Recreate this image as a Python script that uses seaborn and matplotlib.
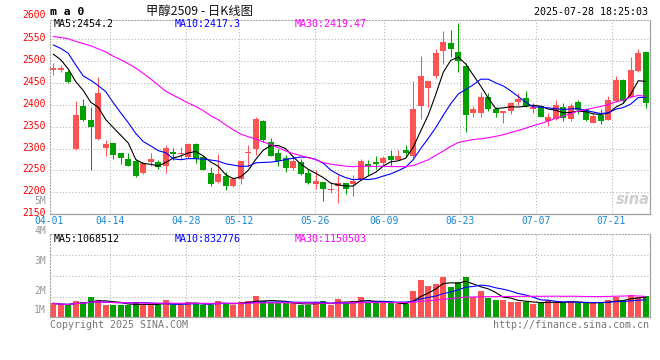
import numpy as np
import pandas as pd
import matplotlib
matplotlib.use("Agg")
import matplotlib.pyplot as plt
import matplotlib.transforms as mtrans
import seaborn as sns

# ---------------- data ----------------
dates = ["04-01", "04-02", "04-03", "04-07", "04-08", "04-09", "04-10", "04-11", "04-14", "04-15",
         "04-16", "04-17", "04-18", "04-21", "04-22", "04-23", "04-24", "04-25", "04-28", "04-29",
         "04-30", "05-06", "05-07", "05-08", "05-09", "05-12", "05-13", "05-14", "05-15", "05-16",
         "05-19", "05-20", "05-21", "05-22", "05-23", "05-26", "05-27", "05-28", "05-29", "05-30",
         "06-03", "06-04", "06-05", "06-06", "06-09", "06-10", "06-11", "06-12", "06-13", "06-16",
         "06-17", "06-18", "06-19", "06-20", "06-23", "06-24", "06-25", "06-26", "06-27", "06-30",
         "07-01", "07-02", "07-03", "07-04", "07-07", "07-08", "07-09", "07-10", "07-11", "07-14",
         "07-15", "07-16", "07-17", "07-18", "07-21", "07-22", "07-23", "07-24", "07-25", "07-28"]

opens = [2480, 2480, 2476, 2299, 2398, 2366, 2321, 2302, 2312, 2289,
         2276, 2272, 2243, 2270, 2269, 2259, 2292, 2288, 2280, 2311,
         2281, 2244, 2224, 2237, 2215, 2230, 2289, 2299, 2364, 2314,
         2289, 2279, 2256, 2269, 2244, 2219, 2223, 2204, 2215, 2221,
         2219, 2228, 2264, 2269, 2266, 2283, 2274, 2297, 2282, 2398,
         2439, 2467, 2522, 2541, 2520, 2489, 2382, 2382, 2417, 2391,
         2381, 2385, 2407, 2415, 2390, 2398, 2364, 2368, 2394, 2368,
         2407, 2390, 2359, 2377, 2366, 2409, 2457, 2417, 2478, 2520]
highs = [2495, 2491, 2480, 2409, 2414, 2394, 2463, 2320, 2313, 2290,
         2289, 2276, 2270, 2289, 2274, 2308, 2301, 2303, 2312, 2312,
         2285, 2257, 2288, 2247, 2236, 2272, 2308, 2371, 2365, 2325,
         2298, 2285, 2282, 2276, 2253, 2250, 2224, 2221, 2240, 2222,
         2240, 2276, 2274, 2282, 2283, 2297, 2297, 2308, 2455, 2512,
         2455, 2527, 2569, 2571, 2588, 2495, 2398, 2430, 2428, 2394,
         2385, 2407, 2428, 2432, 2404, 2400, 2381, 2410, 2404, 2404,
         2411, 2392, 2378, 2390, 2420, 2465, 2458, 2509, 2527, 2521]
lows = [2468, 2474, 2451, 2297, 2364, 2251, 2320, 2282, 2276, 2264,
        2259, 2234, 2241, 2259, 2253, 2244, 2274, 2276, 2278, 2266,
        2250, 2215, 2221, 2205, 2211, 2219, 2259, 2285, 2316, 2282,
        2259, 2247, 2250, 2240, 2219, 2208, 2180, 2198, 2175, 2196,
        2192, 2227, 2240, 2253, 2259, 2261, 2274, 2280, 2278, 2368,
        2396, 2461, 2493, 2509, 2474, 2337, 2373, 2373, 2385, 2372,
        2359, 2378, 2400, 2394, 2382, 2371, 2352, 2366, 2362, 2363,
        2378, 2364, 2358, 2356, 2366, 2407, 2404, 2417, 2475, 2392]
closes = [2485, 2484, 2452, 2377, 2366, 2350, 2427, 2311, 2286, 2278,
          2261, 2238, 2266, 2277, 2258, 2302, 2288, 2290, 2311, 2276,
          2250, 2219, 2241, 2215, 2230, 2272, 2292, 2367, 2320, 2283,
          2272, 2256, 2272, 2241, 2221, 2226, 2208, 2208, 2221, 2208,
          2226, 2272, 2259, 2264, 2279, 2274, 2283, 2289, 2391, 2465,
          2455, 2518, 2543, 2528, 2501, 2377, 2391, 2417, 2391, 2381,
          2385, 2404, 2414, 2398, 2394, 2373, 2373, 2400, 2369, 2398,
          2388, 2366, 2375, 2364, 2411, 2457, 2409, 2480, 2518, 2404]
volumes = [1579000, 1523000, 1523000, 1668000, 1623000, 1801000, 1690000, 1523000, 1523000, 1523000,
           1523000, 1623000, 1523000, 1523000, 1523000, 1690000, 1523000, 1523000, 1623000, 1590000,
           1523000, 1523000, 1657000, 1590000, 1523000, 1623000, 1657000, 1834000, 1657000, 1579000,
           1579000, 1579000, 1579000, 1523000, 1523000, 1623000, 1657000, 1523000, 1723000, 1579000,
           1657000, 1779000, 1634000, 1579000, 1579000, 1579000, 1546000, 1546000, 2001000, 2357000,
           2157000, 2223000, 2457000, 2123000, 2301000, 2457000, 1779000, 2001000, 1768000, 1690000,
           1690000, 1623000, 1623000, 1623000, 1557000, 1579000, 1690000, 1623000, 1579000, 1657000,
           1579000, 1579000, 1579000, 1623000, 1690000, 1779000, 1690000, 1857000, 1779000, 1834000]

# moving-average values before enough history exists
ma5_head = [2516, 2503, 2482, 2453]
ma10_head = [2537, 2529, 2518, 2491, 2466, 2456, 2444, 2430, 2405]
ma30_head = [2556, 2554, 2551, 2545, 2540, 2535, 2528, 2521, 2511, 2503,
             2494, 2484, 2472, 2459, 2445, 2431, 2422, 2413, 2404, 2396,
             2387, 2375, 2366, 2354, 2343, 2333, 2327, 2322, 2315]

tick_dates = ["04-01", "04-14", "04-28", "05-12", "05-26", "06-09", "06-23", "07-07", "07-21"]
price_ticks = [2150, 2200, 2250, 2300, 2350, 2400, 2450, 2500, 2550, 2600]
vol_labels = ["5M", "4M", "3M", "2M", "1M"]
vol_label_values = [5e6, 4e6, 3e6, 2e6, 1e6]

title_text = "甲醇2509 - 日K线图"
code_text = "m a 0"
time_text = "2025-07-28 18:25:03"
price_legend = ["MA5:2454.2", "MA10:2417.3", "MA30:2419.47"]
vol_legend = ["MA5:1068512", "MA10:832776", "MA30:1150503"]
footer_left = "Copyright 2025 SINA.COM"
footer_right = "http://finance.sina.com.cn"

# ---------------- style ----------------
sns.set_theme(style="white")
plt.rcParams["font.family"] = ["DejaVu Sans Mono", "DejaVu Sans"]
MONO = "DejaVu Sans Mono"
CJK = ["Noto Sans CJK SC", "DejaVu Sans"]
RED = "#ff5252"
GREEN = "#00a000"
GRID = "#b4b4b4"
LEG_COLORS = ["#000000", "#0000ff", "#ff00ff"]
FS = 7.0

W, H = 660, 360
fig = plt.figure(figsize=(W / 100, H / 100), dpi=100)
fig.patch.set_facecolor("white")
up2 = mtrans.ScaledTranslation(0, 2 / 100, fig.dpi_scale_trans)


def rect(l, t, r, b):
    return [l / W, 1 - b / H, (r - l) / W, (b - t) / H]


ax = fig.add_axes(rect(49.5, 20, 649.5, 214.1))
axv = fig.add_axes(rect(49.5, 234.3, 649.5, 317.3))

n = len(closes)
x = np.arange(n)
o = np.array(opens, float)
c = np.array(closes, float)
hi = np.array(highs, float)
lo = np.array(lows, float)
up = c >= o
cols = np.where(up, RED, GREEN)

# moving averages
cs = pd.Series(c)
ma5 = cs.rolling(5).mean().to_numpy()
ma10 = cs.rolling(10).mean().to_numpy()
ma30 = cs.rolling(30).mean().to_numpy()
ma5[:len(ma5_head)] = ma5_head
ma10[:len(ma10_head)] = ma10_head
ma30[:len(ma30_head)] = ma30_head

vs = pd.Series(np.array(volumes, float))
vma5 = vs.rolling(5, min_periods=1).mean().to_numpy()
vma10 = vs.rolling(10, min_periods=1).mean().to_numpy()
vma30 = vs.rolling(30, min_periods=1).mean().to_numpy()

# tick positions: gridlines spread over full width (chart quirk)
tick_pos = [-0.5 + dates.index(d) * n / (n - 1) for d in tick_dates]

# ---------------- price panel ----------------
ax.vlines(x, lo, hi, colors=cols, lw=0.75, zorder=2)
body_b = np.minimum(o, c)
body_h = np.maximum(np.abs(c - o), 1.8)
ax.bar(x, body_h, bottom=body_b, width=0.76, color=cols, linewidth=0, zorder=2.5)
for ser, col in zip([ma5, ma10, ma30], LEG_COLORS):
    sns.lineplot(x=x, y=ser, color=col, lw=0.8, ax=ax, zorder=3)

ax.set_xlim(-0.5, n - 0.5)
ax.set_ylim(2150, 2594)
ax.set_xticks(tick_pos)
ax.set_xticklabels(tick_dates, fontsize=FS, color="#1a86d0", family=MONO)
ax.set_yticks(price_ticks[:-1])
ax.set_yticklabels([str(v) for v in price_ticks[:-1]], fontsize=FS, color="#ff0000", family=MONO)
ax.tick_params(axis="both", length=0)
ax.tick_params(axis="x", pad=1.6)
ax.tick_params(axis="y", pad=2.4)
for lab in ax.get_yticklabels():
    lab.set_transform(lab.get_transform() + up2)
ptr = mtrans.blended_transform_factory(ax.transAxes, ax.transData)
ax.text(-0.006, price_ticks[-1], str(price_ticks[-1]), transform=ptr + up2,
        ha="right", va="center", fontsize=FS, color="#ff0000", family=MONO, clip_on=False)

# ---------------- volume panel ----------------
df = pd.DataFrame({"x": x, "vol": volumes, "dir": np.where(up, "up", "down")})
sns.barplot(data=df, x="x", y="vol", hue="dir", palette={"up": RED, "down": GREEN},
            native_scale=True, width=0.76, dodge=False, saturation=1, errorbar=None,
            legend=False, linewidth=0, ax=axv, zorder=2)
for ser, col in zip([vma5, vma10, vma30], LEG_COLORS):
    sns.lineplot(x=x, y=ser, color=col, lw=0.8, ax=axv, zorder=3)
vmin, vmax = 1.113e6, 3.88e6
axv.set_xlim(-0.5, n - 0.5)
axv.set_ylim(vmin, vmax)
axv.set_xticks(tick_pos)
axv.set_xticklabels([])
axv.set_yticks(np.linspace(vmin, vmax, 5)[1:-1])
axv.set_yticklabels([])
axv.tick_params(axis="both", length=0)
vtr = mtrans.blended_transform_factory(axv.transAxes, axv.transData)
for lab, val in zip(vol_labels, vol_label_values):
    yv = max(val, vmin + 0.245e6)
    axv.text(-0.006, yv, lab, transform=vtr, ha="right", va="center", fontsize=FS,
             color="#999999", family=MONO, clip_on=False)

for a in (ax, axv):
    a.set_xlabel("")
    a.set_ylabel("")
    a.set_facecolor("white")
    a.grid(True, color=GRID, lw=0.75, linestyle=(0, (1, 2)), zorder=0)
    a.set_axisbelow(True)
    for s in ("left", "top"):
        a.spines[s].set_color("#a0a0a0")
        a.spines[s].set_linestyle((0, (1, 2)))
        a.spines[s].set_linewidth(0.75)
    for s in ("right", "bottom"):
        a.spines[s].set_color("#a0a0a0")
        a.spines[s].set_linewidth(0.9)

# ---------------- texts ----------------
def ftext(px, py, s, **kw):
    fig.text(px / W, 1 - py / H, s, **kw)


ftext(50, 12, code_text, fontsize=8.2, fontweight="bold", family=MONO, ha="left", va="center", color="black")
ftext(200, 11.5, title_text, fontsize=8.9, family=CJK, ha="center", va="center", color="#111111")
ftext(648, 12, time_text, fontsize=7.2, family=MONO, ha="right", va="center", color="black")
for s, px, col in zip(price_legend, [54, 175, 295], LEG_COLORS):
    ftext(px, 24, s, fontsize=7.2, family=MONO, ha="left", va="center", color=col)
for s, px, col in zip(vol_legend, [54, 175, 295], LEG_COLORS):
    ftext(px, 238.5, s, fontsize=7.2, family=MONO, ha="left", va="center", color=col)
ftext(50, 324.5, footer_left, fontsize=7.2, family=MONO, ha="left", va="center", color="#777777")
ftext(649, 324.5, footer_right, fontsize=7.2, family=MONO, ha="right", va="center", color="#777777")
ftext(650, 199, "sina", fontsize=10.5, fontweight="bold", style="italic", family="DejaVu Sans",
      ha="right", va="center", color="#cfcfcf")

fig.savefig("out.png", dpi=100)
